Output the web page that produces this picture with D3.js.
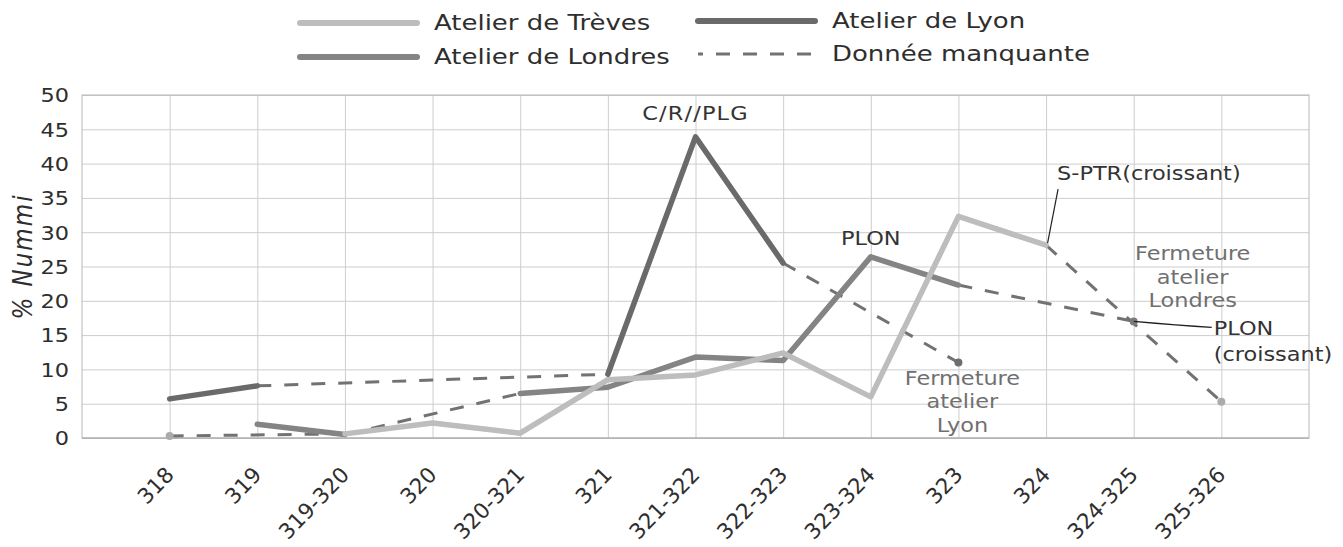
<!DOCTYPE html>
<html>
<head>
<meta charset="utf-8">
<script src="https://cdn.jsdelivr.net/npm/d3@7"></script>
<style>
  html, body { margin: 0; padding: 0; background: #fff; }
  svg { display: block; font-family: "DejaVu Sans", sans-serif; }
</style>
</head>
<body>
<svg id="chart" width="1343" height="547"></svg>
<script>
// Issues (period) along the x axis
const categories = ["318", "319", "319-320", "320", "320-321", "321", "321-322",
                    "322-323", "323-324", "323", "324", "324-325", "325-326"];

// Share of nummi per mint, in %; null = no data for that period
const trevesValues  = [0.3, null, 0.6, 2.2, 0.7, 8.5, 9.2, 12.4, 6.0, 32.3, 28.1, null, 5.3];
const lyonValues    = [5.7, 7.6, null, null, null, 9.3, 43.9, 25.5, null, 11.0, null, null, null];
const londresValues = [null, 2.0, 0.5, null, 6.5, 7.4, 11.8, 11.3, 26.4, 22.3, null, 17.0, null];

const yTicks = [0, 5, 10, 15, 20, 25, 30, 35, 40, 45, 50];
const yLabel = "% Nummi";

const seriesNames = ["Atelier de Trèves", "Atelier de Lyon", "Atelier de Londres"];
const missingLabel = "Donnée manquante";

// Horizontal widening applied to upright text blocks
const SX = 1.18;

const svg = d3.select("#chart");
const plot = { left: 82, right: 1309, top: 95, bottom: 438 };

const x = d3.scalePoint().domain(categories).range([plot.left, plot.right]).padding(1);
const y = d3.scaleLinear().domain([0, 50]).range([plot.bottom, plot.top]);

const series = [
  { name: seriesNames[0], values: trevesValues,  color: "#bdbdbd", dot: "#ababab" },
  { name: seriesNames[1], values: lyonValues,    color: "#6a6a6a", dot: "#6e6e6e" },
  { name: seriesNames[2], values: londresValues, color: "#848484", dot: "#7c7c7c" }
];
const dashColor = "#727272";

// ---- grid + axes ----
const yAxis = d3.axisLeft(y).tickValues(yTicks).tickSize(-(plot.right - plot.left)).tickPadding(0);
const gy = svg.append("g").attr("transform", `translate(${plot.left},0)`).call(yAxis);
gy.select(".domain").remove();
gy.selectAll(".tick line").attr("stroke", "#cdcdcd").attr("stroke-width", 1);
gy.selectAll(".tick text")
  .attr("x", 0).attr("dy", "0.36em")
  .attr("transform", `translate(-13,0) scale(${SX},1)`)
  .attr("text-anchor", "end")
  .attr("fill", "#2e2e2e").style("font-size", "19px").style("font-family", "DejaVu Sans, sans-serif");

const xAxis = d3.axisBottom(x).tickSize(-(plot.bottom - plot.top)).tickPadding(0);
const gx = svg.append("g").attr("transform", `translate(0,${plot.bottom})`).call(xAxis);
gx.select(".domain").remove();
gx.selectAll(".tick line").attr("stroke", "#cdcdcd").attr("stroke-width", 1);
gx.selectAll(".tick text")
  .attr("x", 0).attr("y", 0).attr("dy", null)
  .attr("transform", "translate(5,38) rotate(-46)")
  .attr("text-anchor", "end")
  .attr("fill", "#2e2e2e").style("font-size", "21.5px").style("font-family", "DejaVu Sans, sans-serif");

// plot frame
svg.append("rect")
  .attr("x", plot.left).attr("y", plot.top)
  .attr("width", plot.right - plot.left).attr("height", plot.bottom - plot.top)
  .attr("fill", "none").attr("stroke", "#b8b8b8").attr("stroke-width", 1);
svg.append("line")
  .attr("x1", plot.left).attr("x2", plot.right).attr("y1", plot.bottom).attr("y2", plot.bottom)
  .attr("stroke", "#a8a8a8").attr("stroke-width", 1.2);

// y axis title
svg.append("text")
  .attr("transform", `translate(22,${(plot.top + plot.bottom) / 2 - 10}) scale(${SX},1) rotate(-90)`)
  .attr("text-anchor", "middle").attr("dy", "0.35em")
  .attr("fill", "#2e2e2e").style("font-size", "23px").style("font-style", "italic")
  .style("letter-spacing", "2px")
  .text(yLabel);

// ---- missing-data bridges (dashed) ----
const defined = v => v !== null && v !== undefined;
const bridges = [];
const isolated = [];
series.forEach(s => {
  const idx = s.values.map((v, i) => defined(v) ? i : -1).filter(i => i >= 0);
  for (let k = 1; k < idx.length; k++) {
    if (idx[k] - idx[k - 1] > 1) bridges.push({ s, a: idx[k - 1], b: idx[k] });
  }
  idx.forEach(i => {
    if (!defined(s.values[i - 1]) && !defined(s.values[i + 1])) isolated.push({ s, i });
  });
});

const gLines = svg.append("g");
gLines.selectAll("line.bridge").data(bridges).join("line")
  .attr("class", "bridge")
  .attr("x1", d => x(categories[d.a])).attr("y1", d => y(d.s.values[d.a]))
  .attr("x2", d => x(categories[d.b])).attr("y2", d => y(d.s.values[d.b]))
  .attr("stroke", dashColor).attr("stroke-width", 3)
  .attr("stroke-dasharray", "14,13");

// ---- series lines (drawn Lyon, Londres, then Trèves on top) ----
const lineGen = d3.line()
  .defined(d => defined(d.v))
  .x(d => x(d.c)).y(d => y(d.v));

[series[1], series[2], series[0]].forEach(s => {
  gLines.append("path")
    .datum(categories.map((c, i) => ({ c, v: s.values[i] })))
    .attr("d", lineGen)
    .attr("fill", "none").attr("stroke", s.color)
    .attr("stroke-width", 5.5).attr("stroke-linejoin", "round").attr("stroke-linecap", "round");
});

// isolated values shown as dots
gLines.selectAll("circle.pt").data(isolated).join("circle")
  .attr("class", "pt")
  .attr("cx", d => x(categories[d.i])).attr("cy", d => y(d.s.values[d.i]))
  .attr("r", 4).attr("fill", d => d.s.dot);

// ---- annotations ----
function point(s, cat) {
  const i = categories.indexOf(cat);
  return [x(cat), y(s.values[i])];
}
function stretchedText(g, px, py, str, anchor, size, color) {
  g.append("text")
    .attr("transform", `translate(${px},${py}) scale(${SX},1)`)
    .attr("text-anchor", anchor)
    .attr("fill", color).style("font-size", size + "px")
    .text(str);
}
const gAnn = svg.append("g");
const dark = "#333333", soft = "#707070";

// peak of Lyon
{
  const [px, py] = point(series[1], "321-322");
  gAnn.append("text")
    .attr("transform", `translate(${px},${py - 17}) scale(${SX},1)`)
    .attr("text-anchor", "middle").attr("fill", dark)
    .style("font-size", "19px").style("letter-spacing", "1px")
    .text("C/R//PLG");
}
// PLON peak on Londres
{
  const [px, py] = point(series[2], "323-324");
  stretchedText(gAnn, px, py - 12, "PLON", "middle", 19, dark);
}
// S-PTR on Trèves 324
{
  const [px, py] = point(series[0], "324");
  stretchedText(gAnn, px + 11, py - 65, "S-PTR(croissant)", "start", 19, dark);
  gAnn.append("line")
    .attr("x1", px + 12).attr("y1", py - 56).attr("x2", px + 1.5).attr("y2", py - 2)
    .attr("stroke", "#222").attr("stroke-width", 1.2);
}
// PLON (croissant) on Londres 324-325
{
  const [px, py] = point(series[2], "324-325");
  gAnn.append("path")
    .attr("d", `M${px},${py} Q${px + 45},${py + 4} ${px + 78},${py + 6}`)
    .attr("fill", "none").attr("stroke", "#222").attr("stroke-width", 1.2);
  stretchedText(gAnn, px + 80, py + 14, "PLON", "start", 19, dark);
  stretchedText(gAnn, px + 80, py + 40, "(croissant)", "start", 19, dark);
  ["Fermeture", "atelier", "Londres"].forEach((t, k) =>
    stretchedText(gAnn, px + 59, py - 61 + k * 23.5, t, "middle", 19, soft));
}
// closing of Lyon
{
  const [px, py] = point(series[1], "323");
  ["Fermeture", "atelier", "Lyon"].forEach((t, k) =>
    stretchedText(gAnn, px + 4, py + 22 + k * 23.5, t, "middle", 19, soft));
}

// ---- legend ----
const legendItems = [
  { label: seriesNames[0], x: 300, y: 23, color: series[0].color, dash: false },
  { label: seriesNames[1], x: 698, y: 21, color: series[1].color, dash: false },
  { label: seriesNames[2], x: 300, y: 57, color: series[2].color, dash: false },
  { label: missingLabel,   x: 698, y: 54, color: dashColor,       dash: true }
];
const gLeg = svg.append("g");
legendItems.forEach(it => {
  gLeg.append("line")
    .attr("x1", it.x).attr("x2", it.x + 117).attr("y1", it.y).attr("y2", it.y)
    .attr("stroke", it.color)
    .attr("stroke-width", it.dash ? 3 : 6)
    .attr("stroke-linecap", it.dash ? "butt" : "round")
    .attr("stroke-dasharray", it.dash ? "5,13,14,13,14,13,14,13,14" : null);
  gLeg.append("text")
    .attr("transform", `translate(${it.x + 134},${it.y + 7}) scale(${SX},1)`)
    .attr("fill", "#2e2e2e").style("font-size", "22px")
    .text(it.label);
});
</script>
</body>
</html>
